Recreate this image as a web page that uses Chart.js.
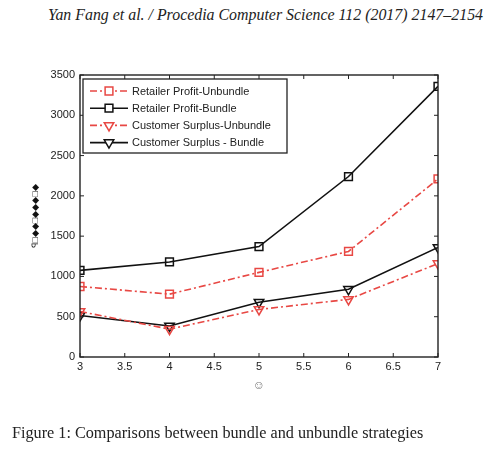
<!DOCTYPE html>
<html>
<head>
<meta charset="utf-8">
<script src="https://cdn.jsdelivr.net/npm/chart.js@4/dist/chart.umd.min.js"></script>
<style>
  html,body{margin:0;padding:0;background:#fff;}
  #wrap{position:relative;width:500px;height:450px;overflow:hidden;}
  #chart{position:absolute;left:0;top:0;}
  #header{position:absolute;left:48px;top:6px;font-family:"Liberation Serif","Times New Roman",serif;font-style:italic;font-size:15.9px;color:#222;white-space:nowrap;}
  #caption{position:absolute;left:12px;top:424px;font-family:"Liberation Serif","Times New Roman",serif;font-size:16.2px;color:#222;white-space:nowrap;}
</style>
</head>
<body>
<div id="wrap">
  <div id="header">Yan Fang et al. / Procedia Computer Science 112 (2017) 2147–2154</div>
  <canvas id="chart" width="500" height="450"></canvas>
  <div id="caption">Figure 1: Comparisons between bundle and unbundle strategies</div>
</div>
<script>
const xValues = [3, 4, 5, 6, 7];
const seriesNames = ["Retailer Profit-Unbundle", "Retailer Profit-Bundle", "Customer Surplus-Unbundle", "Customer Surplus - Bundle"];
const retailerUnbundle = [875, 780, 1050, 1310, 2210];
const retailerBundle = [1075, 1180, 1370, 2240, 3360];
const customerUnbundle = [565, 345, 590, 715, 1160];
const customerBundle = [515, 385, 680, 840, 1360];
const xTickStep = 0.5;
const yMax = 3500;
const yTickStep = 500;
const xAxisLabel = "☺";
const yAxisLabel = "ꟼ□◆◆□◆◆◆□◆";

const RED = "rgb(232,72,68)";
const BLACK = "#111";

function pts(arr){ return arr.map((v,i)=>({x:xValues[i], y:v})); }

const styles = [
  {color:RED, dash:[7,3,2,3], point:'rect', rot:0},
  {color:BLACK, dash:[], point:'rect', rot:0},
  {color:RED, dash:[7,3,2,3], point:'triangle', rot:180},
  {color:BLACK, dash:[], point:'triangle', rot:180}
];
const seriesData = [retailerUnbundle, retailerBundle, customerUnbundle, customerBundle];

const datasets = seriesData.map((d,i)=>({
  label: seriesNames[i],
  data: pts(d),
  borderColor: styles[i].color,
  backgroundColor: 'rgba(0,0,0,0)',
  borderWidth: 1.6,
  borderDash: styles[i].dash,
  pointStyle: styles[i].point,
  pointRotation: styles[i].rot,
  pointRadius: 5.5,
  pointBorderWidth: 1.5,
  pointBorderColor: styles[i].color,
  pointBackgroundColor: 'rgba(0,0,0,0)',
  tension: 0
}));

const framePlugin = {
  id: 'frame',
  afterDatasetsDraw(chart){
    const ctx = chart.ctx;
    const a = chart.chartArea;
    const xs = chart.scales.x, ys = chart.scales.y;
    ctx.save();
    ctx.strokeStyle = '#222';
    ctx.lineWidth = 1.4;
    ctx.setLineDash([]);
    ctx.strokeRect(a.left, a.top, a.right - a.left, a.bottom - a.top);
    ctx.lineWidth = 1;
    const tl = 4;
    xs.ticks.forEach(t=>{
      const px = xs.getPixelForValue(t.value);
      ctx.beginPath();
      ctx.moveTo(px, a.bottom); ctx.lineTo(px, a.bottom - tl);
      ctx.moveTo(px, a.top); ctx.lineTo(px, a.top + tl);
      ctx.stroke();
    });
    ys.ticks.forEach(t=>{
      const py = ys.getPixelForValue(t.value);
      ctx.beginPath();
      ctx.moveTo(a.left, py); ctx.lineTo(a.left + tl, py);
      ctx.moveTo(a.right, py); ctx.lineTo(a.right - tl, py);
      ctx.stroke();
    });
    // legend
    const lx = a.left + 3, ly = a.top + 4, lw = 204, lh = 74;
    ctx.fillStyle = '#fff';
    ctx.fillRect(lx, ly, lw, lh);
    ctx.strokeStyle = '#222';
    ctx.lineWidth = 1.3;
    ctx.strokeRect(lx, ly, lw, lh);
    chart.data.datasets.forEach((ds,i)=>{
      const cy = ly + 12 + i*17.2;
      ctx.strokeStyle = ds.borderColor;
      ctx.lineWidth = 1.6;
      ctx.setLineDash(ds.borderDash);
      ctx.beginPath();
      ctx.moveTo(lx + 7, cy); ctx.lineTo(lx + 45, cy);
      ctx.stroke();
      ctx.setLineDash([]);
      ctx.lineWidth = 1.5;
      ctx.fillStyle = '#fff';
      Chart.helpers.drawPoint(ctx, {pointStyle: ds.pointStyle, rotation: ds.pointRotation, radius: 5.5, borderWidth: 1.5}, lx + 26, cy);
      ctx.fillStyle = '#222';
      ctx.font = '11px "Liberation Sans", Arial, sans-serif';
      ctx.textBaseline = 'middle';
      ctx.textAlign = 'left';
      ctx.fillText(ds.label, lx + 49, cy + 0.5);
    });
    ctx.restore();
  }
};

new Chart(document.getElementById('chart'), {
  type: 'line',
  data: { datasets },
  options: {
    responsive: false,
    animation: false,
    devicePixelRatio: 1,
    layout: { padding: { left: 30, right: 62, top: 75, bottom: 57 } },
    plugins: { legend: { display: false }, tooltip: { enabled: false } },
    scales: {
      x: {
        type: 'linear', min: 3, max: 7,
        ticks: { stepSize: xTickStep, color: '#222', font: { family: '"Liberation Sans", Arial, sans-serif', size: 11 }, padding: 3, maxRotation: 0,
          callback: v => String(v) },
        grid: { display: false, drawTicks: false },
        border: { display: false },
        title: { display: true, text: xAxisLabel, color: '#777', font: { size: 12 }, padding: { top: 0, bottom: 0 } },
        afterFit(s){ s.height = 36; }
      },
      y: {
        min: 0, max: yMax,
        ticks: { stepSize: yTickStep, color: '#222', font: { family: '"Liberation Sans", Arial, sans-serif', size: 11 }, padding: 5,
          callback: v => String(v) },
        grid: { display: false, drawTicks: false },
        border: { display: false },
        title: { display: true, text: yAxisLabel, color: '#111', font: { size: 9 }, padding: { top: 0, bottom: 0 } },
        afterFit(s){ s.width = 50; }
      }
    }
  },
  plugins: [framePlugin]
});
</script>
</body>
</html>
